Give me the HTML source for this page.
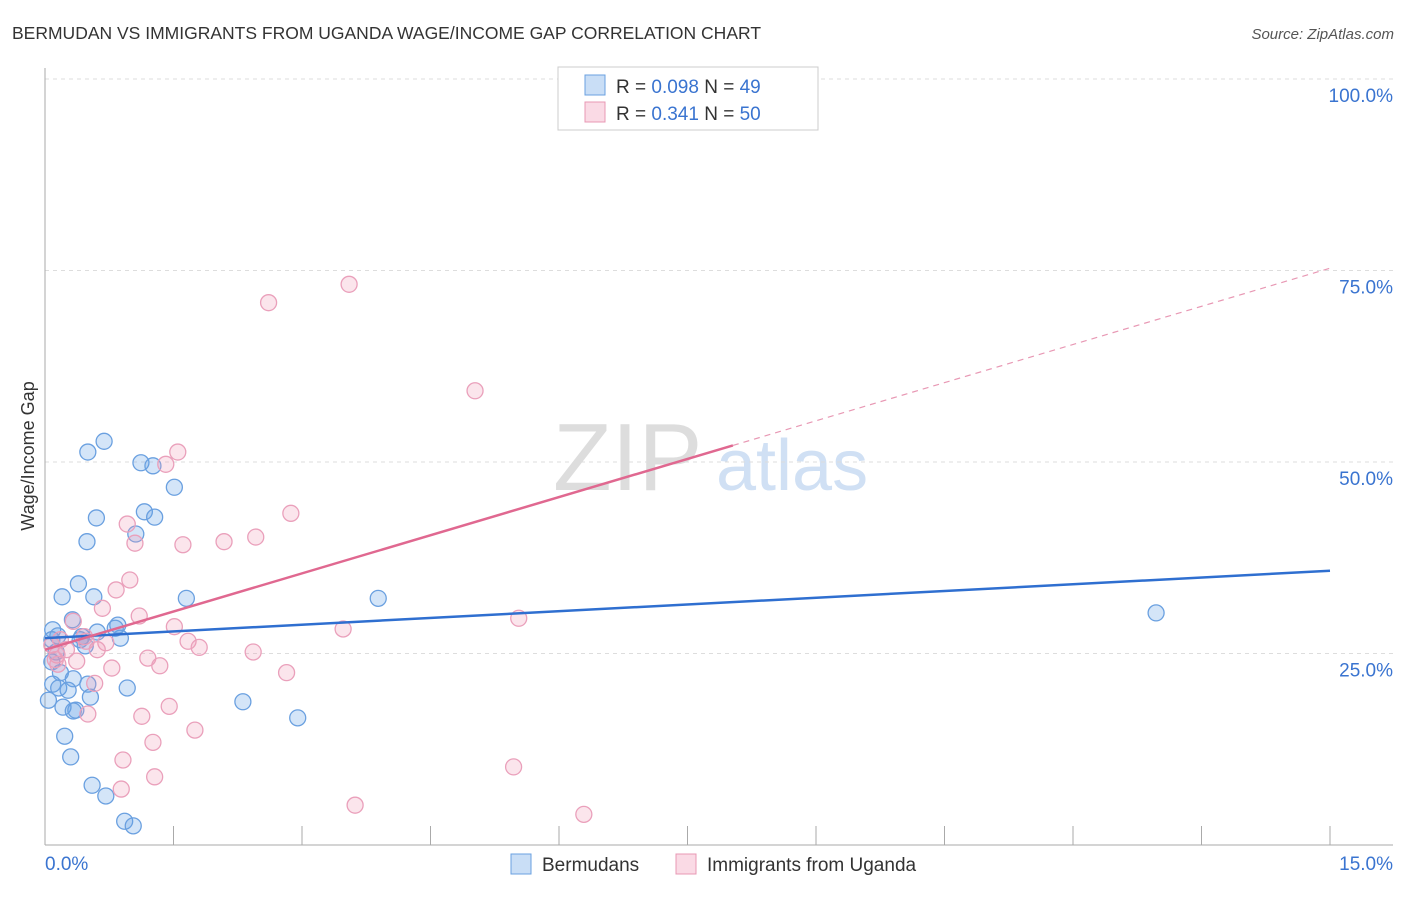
<!DOCTYPE html>
<html><head><meta charset="utf-8"><style>
body{margin:0;background:#fff;font-family:"Liberation Sans",sans-serif;}
svg text{font-family:"Liberation Sans",sans-serif;}
</style></head><body>
<svg id="chart" width="1406" height="892" xmlns="http://www.w3.org/2000/svg">
<text x="12" y="39" font-size="17.5" fill="#333">BERMUDAN VS IMMIGRANTS FROM UGANDA WAGE/INCOME GAP CORRELATION CHART</text>
<text x="1394" y="39" font-size="15" fill="#555" text-anchor="end" font-style="italic">Source: ZipAtlas.com</text>
<g>
<text x="553" y="490" font-size="96" fill="#ddd" font-family="Liberation Serif,serif">ZIP</text>
<text x="716" y="490" font-size="72" fill="#d0e0f4">atlas</text>
</g>
<g id="grid"></g><g id="axes"></g><g id="marks"></g>
<g>
<rect x="558" y="67" width="260" height="63" fill="#fff" stroke="#ccc"/>
<rect x="585" y="75" width="20" height="20" fill="rgba(100,160,230,0.35)" stroke="#6aa0e0"/>
<rect x="585" y="102" width="20" height="20" fill="rgba(240,150,180,0.35)" stroke="#e898b4"/>
<text x="616" y="93" font-size="19" fill="#333">R = <tspan fill="#3a74d0">0.098</tspan>   N = <tspan fill="#3a74d0">49</tspan></text>
<text x="616" y="120" font-size="19" fill="#333">R =  <tspan fill="#3a74d0">0.341</tspan>   N = <tspan fill="#3a74d0">50</tspan></text>
</g>
<g>
<rect x="511" y="854" width="20" height="20" fill="rgba(100,160,230,0.35)" stroke="#6aa0e0"/>
<text x="542" y="871" font-size="19" fill="#333">Bermudans</text>
<rect x="676" y="854" width="20" height="20" fill="rgba(240,150,180,0.35)" stroke="#e898b4"/>
<text x="707" y="871" font-size="19" fill="#333">Immigrants from Uganda</text>
</g>
<text transform="translate(34,456) rotate(-90)" font-size="18" fill="#333" text-anchor="middle">Wage/Income Gap</text>
</svg>
<script>
const blueX=[0.69,0.50,1.12,1.26,1.51,0.60,1.16,1.28,0.49,1.06,0.39,0.20,0.57,1.65,3.89,12.97,0.32,0.85,0.82,0.09,0.61,0.15,0.43,0.88,0.47,0.08,0.18,0.33,0.50,0.09,0.16,0.27,0.96,0.04,0.53,0.21,0.36,0.33,2.31,2.95,0.23,0.30,0.55,0.71,0.93,1.03,0.08,0.41,0.13];
const blueY=[52.7,51.3,49.9,49.5,46.7,42.7,43.5,42.8,39.6,40.6,34.1,32.4,32.4,32.2,32.2,30.3,29.4,28.7,28.3,28.1,27.8,27.3,27.2,27.0,26.0,23.9,22.5,21.7,21.0,21.0,20.5,20.2,20.5,18.9,19.3,18.0,17.6,17.5,18.7,16.6,14.2,11.5,7.8,6.4,3.1,2.5,26.8,26.8,25.2];
const pinkX=[7.61,3.55,2.61,5.02,1.55,1.41,2.87,0.96,2.46,1.05,1.61,2.09,0.99,0.83,0.67,1.10,0.33,1.51,5.53,3.48,0.46,0.18,0.48,0.71,1.67,1.80,0.08,0.61,0.25,0.14,2.43,1.20,0.37,1.34,0.78,2.82,0.58,0.15,0.50,1.13,1.45,1.75,1.26,0.91,5.47,1.28,0.89,3.62,6.29,0.12];
const pinkY=[94.4,73.2,70.8,59.3,51.3,49.7,43.3,41.9,40.2,39.4,39.2,39.6,34.6,33.3,30.9,29.9,29.2,28.5,29.6,28.2,27.2,26.8,26.6,26.4,26.6,25.8,26.1,25.5,25.5,24.8,25.2,24.4,24.0,23.4,23.1,22.5,21.1,23.6,17.1,16.8,18.1,15.0,13.4,11.1,10.2,8.9,7.3,5.2,4.0,24.2];
const blueTrend=[27.0,35.8];
const pinkTrend=[25.5,75.3];
const pinkSolidEnd=8.03;
const yTicks=[25,50,75,100];
const yTickLabels=["25.0%","50.0%","75.0%","100.0%"];
const xTicks=[0,1.5,3,4.5,6,7.5,9,10.5,12,13.5,15];
const NS="http://www.w3.org/2000/svg";
const X=v=>45+v*1285/15, Y=v=>845-v*7.66;
function mk(tag,attrs,parent){const e=document.createElementNS(NS,tag);for(const k in attrs)e.setAttribute(k,attrs[k]);document.getElementById(parent).appendChild(e);return e;}
yTicks.forEach((t,i)=>{
 const g=mk('line',{x1:45,x2:1393,y1:Y(t),y2:Y(t),stroke:'#ddd','stroke-dasharray':'4,4'},'grid');
 
 
 const l=mk('text',{x:1393,y:Y(t)+23,'font-size':19,fill:'#3a74d0','text-anchor':'end'},'axes');
 l.textContent=yTickLabels[i];
 
 
});
let a=mk('line',{x1:45,x2:45,y1:68,y2:845,stroke:'#aaa'},'axes');


a=mk('line',{x1:45,x2:1393,y1:845,y2:845,stroke:'#aaa'},'axes');


xTicks.forEach(t=>{const e=mk('line',{x1:X(t),x2:X(t),y1:826,y2:845,stroke:'#aaa'},'axes');
 
 });
let t0=mk('text',{x:45,y:870,'font-size':19,fill:'#3a74d0'},'axes');t0.textContent='0.0%';


let t1=mk('text',{x:1393,y:870,'font-size':19,fill:'#3a74d0','text-anchor':'end'},'axes');t1.textContent='15.0%';


blueX.forEach((v,i)=>{const c=mk('circle',{cx:X(v),cy:Y(blueY[i]),r:8,fill:'rgba(100,160,230,0.28)',stroke:'#6aa0e0','stroke-width':1.3},'marks');
 
 });
pinkX.forEach((v,i)=>{const c=mk('circle',{cx:X(v),cy:Y(pinkY[i]),r:8,fill:'rgba(240,150,180,0.25)',stroke:'#eaa0bb','stroke-width':1.3},'marks');
 
 });
const pAt=x=>pinkTrend[0]+(pinkTrend[1]-pinkTrend[0])*x/15;
let l=mk('line',{x1:X(0),y1:Y(blueTrend[0]),x2:X(15),y2:Y(blueTrend[1]),stroke:'#2f6fd0','stroke-width':2.5},'marks');


l=mk('line',{x1:X(0),y1:Y(pAt(0)),x2:X(pinkSolidEnd),y2:Y(pAt(pinkSolidEnd)),stroke:'#e06890','stroke-width':2.5},'marks');


l=mk('line',{x1:X(pinkSolidEnd),y1:Y(pAt(pinkSolidEnd)),x2:X(15),y2:Y(pAt(15)),stroke:'#e898b4','stroke-width':1.2,'stroke-dasharray':'6,5'},'marks');


</script>
</body></html>
